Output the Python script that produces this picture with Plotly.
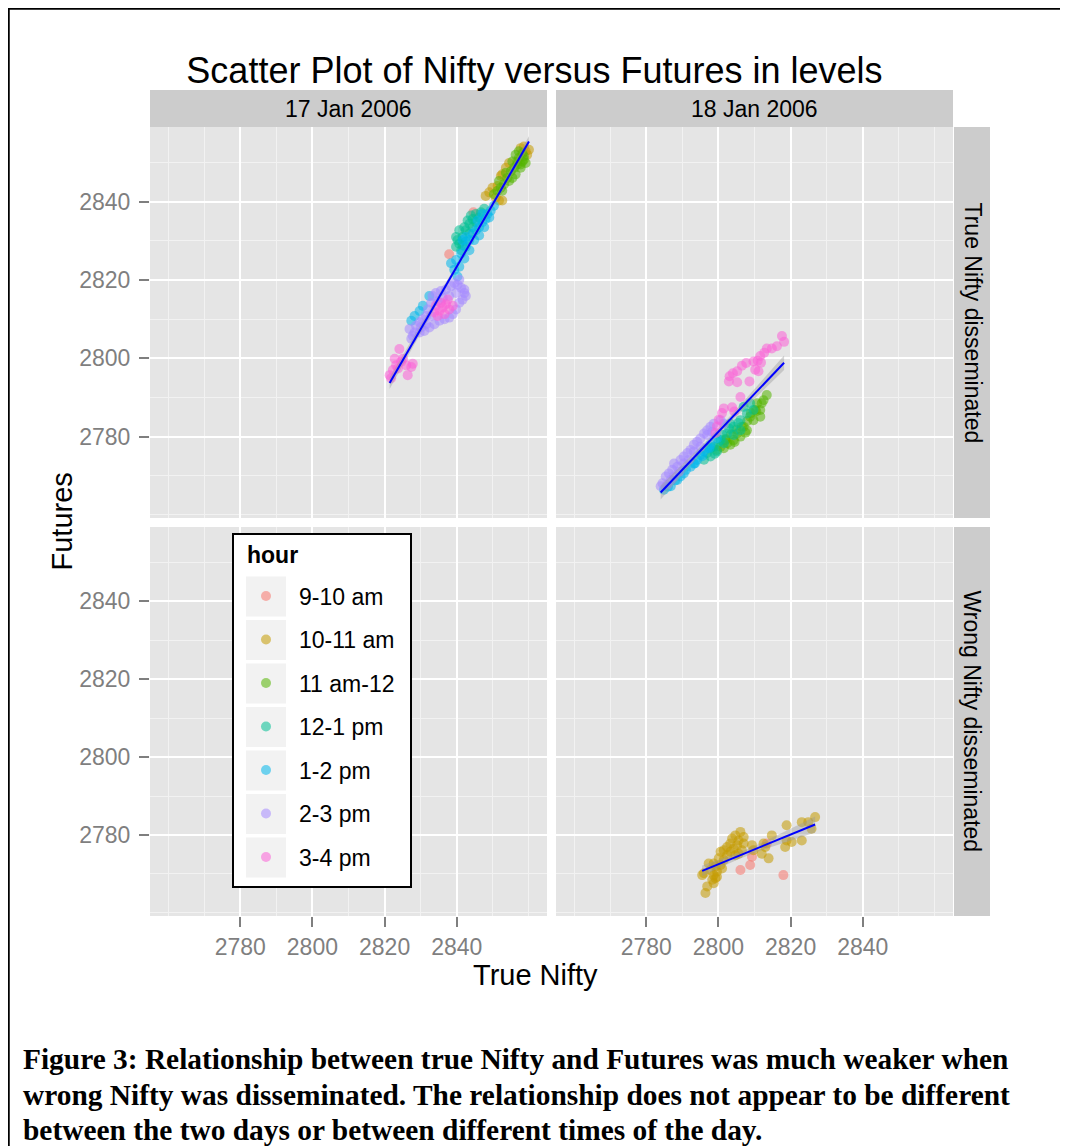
import numpy as np
import plotly.graph_objects as go

FONT = "Liberation Sans, Arial, sans-serif"
SERIF = "Liberation Serif, Times New Roman, serif"

hours = ["9-10 am", "10-11 am", "11 am-12", "12-1 pm", "1-2 pm", "2-3 pm", "3-4 pm"]
hour_colors = ["#F8766D", "#C49A00", "#53B400", "#00C094", "#00B6EB", "#A58AFF", "#FB61D7"]
days = ["17 Jan 2006", "18 Jan 2006"]
regimes = ["True Nifty disseminated", "Wrong Nifty disseminated"]
x_ticks = [2780, 2800, 2820, 2840]
y_ticks = [2780, 2800, 2820, 2840]

# ---- 17 Jan 2006, true Nifty disseminated (one list per hour, order as `hours`)
jan17_true_x = [
    [2837.9, 2844.6],
    [2852.2, 2852.6, 2849.9, 2849.0, 2850.8, 2851.7, 2854.5, 2859.1, 2860.0, 2858.6, 2853.6, 2848.0, 2857.7, 2859.5, 2851.3, 2852.6],
    [2856.3, 2857.2, 2858.2, 2856.8, 2855.4, 2855.9, 2857.7, 2858.6, 2859.1, 2855.0, 2856.3, 2854.0, 2853.1, 2852.2, 2851.3, 2850.3, 2854.5, 2853.6, 2858.2, 2857.2, 2855.4, 2856.8, 2857.7, 2858.6, 2852.6, 2851.7],
    [2839.8, 2840.7, 2841.6, 2842.5, 2843.5, 2844.4, 2845.3, 2846.7, 2841.2, 2840.2, 2842.1, 2843.0, 2843.9, 2841.6, 2843.5, 2844.4, 2846.2, 2842.5, 2840.7, 2845.3, 2847.6, 2839.8],
    [2827.4, 2829.7, 2832.4, 2830.6, 2828.3, 2838.4, 2839.8, 2840.7, 2839.3, 2841.2, 2842.5, 2843.5, 2844.4, 2845.3, 2846.2, 2847.1, 2848.0, 2848.5, 2849.4, 2850.3, 2846.2, 2847.6, 2849.0, 2844.8, 2842.1, 2843.5, 2840.2, 2841.6, 2842.5, 2845.8, 2847.1],
    [2826.9, 2827.8, 2828.7, 2829.7, 2830.6, 2831.5, 2832.0, 2832.9, 2833.3, 2834.2, 2835.6, 2837.0, 2838.4, 2839.3, 2840.2, 2841.2, 2842.1, 2842.5, 2841.6, 2840.7, 2839.8, 2838.9, 2837.9, 2836.6, 2835.2, 2833.8, 2832.4, 2831.0, 2829.7, 2828.3, 2827.4, 2839.8, 2837.9, 2836.1, 2834.7, 2832.9, 2831.5, 2830.1, 2840.7, 2842.1],
    [2824.1, 2822.8, 2823.2, 2824.6, 2826.0, 2827.4, 2827.8, 2826.4, 2821.4, 2822.3, 2823.7, 2825.1, 2821.8, 2834.2, 2835.6, 2837.0, 2837.9, 2836.6, 2835.2, 2833.8, 2837.5, 2838.9, 2836.1, 2834.7],
]
jan17_true_y = [
    [2826.6, 2837.3],
    [2846.6, 2847.0, 2843.6, 2842.4, 2841.1, 2840.3, 2849.9, 2852.9, 2853.3, 2854.1, 2848.7, 2841.5, 2853.7, 2852.0, 2844.0, 2840.3],
    [2852.0, 2851.2, 2850.3, 2849.5, 2850.3, 2848.7, 2848.7, 2851.6, 2849.9, 2847.8, 2847.0, 2846.1, 2844.5, 2843.6, 2842.8, 2841.9, 2845.3, 2847.4, 2852.4, 2852.9, 2846.1, 2850.3, 2849.5, 2850.8, 2842.8, 2845.3],
    [2828.5, 2829.3, 2831.0, 2832.7, 2834.4, 2835.6, 2836.9, 2837.3, 2827.6, 2830.2, 2833.5, 2835.2, 2836.5, 2828.9, 2831.9, 2833.5, 2836.0, 2829.8, 2832.7, 2834.8, 2838.2, 2831.0],
    [2809.6, 2812.1, 2815.9, 2813.4, 2810.8, 2824.3, 2825.1, 2823.4, 2822.6, 2826.8, 2828.5, 2830.2, 2831.9, 2832.7, 2833.5, 2834.8, 2835.6, 2836.9, 2837.7, 2839.0, 2831.4, 2833.5, 2836.0, 2830.2, 2825.5, 2827.6, 2820.9, 2830.2, 2831.0, 2835.2, 2836.9],
    [2807.5, 2805.8, 2808.3, 2809.2, 2810.0, 2810.8, 2812.5, 2814.2, 2815.9, 2816.7, 2817.2, 2817.6, 2818.4, 2819.2, 2818.8, 2818.0, 2816.7, 2815.9, 2815.0, 2814.2, 2812.5, 2811.3, 2810.4, 2810.0, 2809.6, 2808.7, 2807.9, 2807.0, 2806.6, 2806.6, 2805.0, 2816.7, 2815.9, 2815.4, 2814.6, 2810.8, 2808.7, 2807.9, 2820.1, 2817.6],
    [2802.4, 2799.9, 2798.2, 2799.1, 2798.2, 2797.8, 2798.6, 2795.7, 2795.7, 2797.0, 2797.4, 2799.9, 2794.9, 2813.4, 2814.2, 2813.8, 2812.5, 2811.3, 2812.1, 2811.7, 2815.0, 2813.4, 2813.0, 2810.8],
]

# ---- 18 Jan 2006, true Nifty disseminated
jan18_true_x = [
    [],
    [],
    [2800.6, 2802.4, 2804.2, 2806.1, 2807.9, 2809.7, 2811.6, 2812.5, 2813.4, 2810.7, 2808.8, 2807.0, 2805.2, 2801.5, 2803.3, 2811.6, 2810.2, 2801.9, 2799.6,
     2802.0, 2803.5, 2805.0, 2806.5, 2808.0, 2809.0, 2810.5, 2812.0, 2807.5, 2804.5],
    [2796.9, 2798.7, 2800.6, 2802.4, 2804.2, 2806.1, 2807.9, 2804.2, 2806.1, 2801.5, 2799.6, 2807.0, 2808.8, 2803.3, 2809.7, 2796.0, 2797.8,
     2798.0, 2800.0, 2801.0, 2803.0, 2805.5, 2799.0],
    [2784.9, 2786.8, 2788.6, 2790.4, 2792.3, 2794.1, 2796.0, 2797.8, 2799.6, 2789.5, 2793.2, 2796.9, 2795.0,
     2786.0, 2788.0, 2791.0, 2793.5, 2795.5, 2797.5],
    [2784.5, 2785.4, 2786.3, 2787.2, 2787.7, 2788.6, 2789.5, 2790.4, 2791.4, 2792.3, 2793.2, 2794.1, 2795.0, 2796.0, 2796.9, 2797.8, 2798.7, 2793.2, 2790.4, 2787.7, 2785.8, 2784.0, 2796.9, 2800.6, 2801.5, 2798.3, 2795.0, 2791.8, 2789.1, 2786.8],
    [2817.6, 2818.2, 2816.2, 2814.8, 2813.4, 2812.7, 2811.6, 2810.9, 2811.8, 2809.7, 2807.7, 2806.5, 2805.2, 2804.0, 2803.1, 2802.9, 2805.2, 2808.6, 2811.1, 2810.2, 2806.1, 2801.5, 2803.8, 2804.4, 2801.0, 2799.6, 2799.2, 2800.1],
]
jan18_true_y = [
    [],
    [],
    [2777.4, 2778.3, 2779.1, 2780.0, 2781.6, 2784.2, 2786.8, 2789.3, 2790.6, 2788.5, 2785.1, 2782.5, 2780.8, 2777.0, 2777.9, 2785.1, 2786.8, 2779.1, 2776.6,
     2779.4, 2780.6, 2781.8, 2782.5, 2784.0, 2786.0, 2786.5, 2788.5, 2781.0, 2778.6],
    [2775.8, 2777.4, 2779.1, 2780.8, 2782.5, 2784.2, 2785.9, 2780.4, 2781.6, 2778.3, 2776.2, 2787.6, 2788.5, 2783.3, 2786.8, 2774.1, 2774.9,
     2777.2, 2778.6, 2780.5, 2782.0, 2783.5, 2775.6],
    [2766.4, 2767.3, 2768.9, 2770.6, 2772.3, 2774.0, 2776.2, 2777.9, 2779.5, 2769.8, 2773.1, 2777.0, 2775.3,
     2767.2, 2768.8, 2771.5, 2773.2, 2775.0, 2777.0],
    [2768.1, 2769.8, 2770.6, 2771.5, 2773.1, 2772.3, 2774.0, 2774.9, 2775.8, 2776.6, 2777.9, 2778.7, 2779.5, 2780.8, 2781.6, 2782.5, 2783.3, 2776.2, 2773.1, 2769.8, 2767.7, 2767.3, 2780.4, 2784.2, 2783.3, 2781.2, 2777.4, 2774.0, 2771.0, 2768.9],
    [2805.7, 2804.2, 2803.1, 2802.5, 2802.5, 2801.4, 2800.6, 2799.4, 2798.9, 2799.2, 2798.8, 2798.1, 2796.7, 2796.2, 2795.4, 2794.1, 2793.9, 2794.1, 2796.7, 2797.1, 2790.1, 2787.2, 2787.5, 2786.4, 2786.0, 2782.6, 2780.9, 2784.3],
]

# ---- 17 Jan 2006, wrong Nifty disseminated (no observations)
jan17_wrong_x = [[], [], [], [], [], [], []]
jan17_wrong_y = [[], [], [], [], [], [], []]

# ---- 18 Jan 2006, wrong Nifty disseminated
jan18_wrong_x = [
    [2806.1, 2808.8, 2809.3, 2813.4, 2818.0],
    [2796.4, 2796.9, 2798.3, 2798.7, 2799.2, 2799.6, 2797.8, 2797.3, 2796.0, 2795.5, 2798.7, 2800.1, 2800.6, 2801.5, 2802.4, 2803.3, 2803.8, 2804.7, 2806.1, 2805.6, 2805.2, 2804.2, 2803.3, 2802.4, 2801.5, 2800.6, 2801.0, 2799.2, 2806.5, 2807.0, 2804.7, 2805.6, 2809.3, 2809.7, 2812.0, 2813.0, 2812.5, 2813.9, 2814.8, 2818.9, 2818.9, 2818.5, 2820.3, 2823.1, 2823.1, 2824.9, 2825.8, 2826.8, 2807.0, 2798.7, 2799.6],
    [], [], [], [], [],
]
jan18_wrong_y = [
    [2771.0, 2772.3, 2774.4, 2777.8, 2769.7],
    [2765.1, 2766.8, 2768.5, 2769.7, 2768.9, 2770.6, 2771.0, 2772.7, 2770.2, 2769.7, 2772.7, 2774.0, 2775.7, 2776.1, 2776.9, 2777.8, 2779.1, 2779.9, 2780.8, 2778.6, 2777.4, 2776.5, 2775.7, 2774.8, 2773.6, 2772.3, 2771.4, 2771.9, 2776.1, 2777.8, 2774.8, 2775.2, 2777.4, 2776.1, 2775.2, 2776.9, 2777.8, 2774.0, 2779.9, 2782.5, 2778.6, 2776.9, 2778.2, 2778.6, 2783.3, 2783.3, 2781.6, 2784.6, 2779.5, 2767.6, 2769.3],
    [], [], [], [], [],
]

# ---------------------------------------------------------------- layout helpers
W, H = 1052, 1138          # figure size; page has default 8px body margin
def px(x):                 # page pixel -> paper x
    return (x - 8) / W
def py(y):                 # page pixel -> paper y
    return 1 - (y - 8) / H

X_RANGE = [2755, 2865]
Y_RANGE = [2759.2, 2859.1]
COL_PX = [(150, 547), (556, 953)]
ROW_PX = [(127, 518), (527, 916)]

panels = [
    (jan17_true_x, jan17_true_y, "x", "y", 0, 0),
    (jan18_true_x, jan18_true_y, "x2", "y2", 1, 0),
    (jan17_wrong_x, jan17_wrong_y, "x3", "y3", 0, 1),
    (jan18_wrong_x, jan18_wrong_y, "x4", "y4", 1, 1),
]


def ols_fit(xs, ys, n=80, t=1.97):
    x = np.asarray(xs, float)
    y = np.asarray(ys, float)
    b, a = np.polyfit(x, y, 1)
    grid = np.linspace(x.min(), x.max(), n)
    fit = a + b * grid
    resid = y - (a + b * x)
    s = np.sqrt(np.sum(resid ** 2) / (len(x) - 2))
    sxx = np.sum((x - x.mean()) ** 2)
    se = s * np.sqrt(1.0 / len(x) + (grid - x.mean()) ** 2 / sxx)
    return grid, fit, fit - t * se, fit + t * se


fig = go.Figure()

for pi, (PX, PY, xa, ya, col, row) in enumerate(panels):
    allx, ally = [], []
    # keep every panel present even when it has no observations
    fig.add_trace(go.Scatter(x=[], y=[], mode="markers", xaxis=xa, yaxis=ya,
                             showlegend=False, hoverinfo="skip"))
    for h, (hx, hy) in enumerate(zip(PX, PY)):
        assert len(hx) == len(hy)
        allx += hx
        ally += hy
        if pi == 0 or hx:
            fig.add_trace(go.Scatter(
                x=hx, y=hy, mode="markers", xaxis=xa, yaxis=ya,
                name=hours[h], legendgroup=hours[h], showlegend=(pi == 0),
                marker=dict(color=hour_colors[h], size=10, opacity=0.55, line=dict(width=0)),
                hoverinfo="x+y+name",
            ))
    if len(allx) > 2:
        gx, gf, lo, hi = ols_fit(allx, ally)
        fig.add_trace(go.Scatter(
            x=np.concatenate([gx, gx[::-1]]), y=np.concatenate([hi, lo[::-1]]),
            fill="toself", fillcolor="rgba(153,153,153,0.4)", line=dict(width=0),
            mode="lines", xaxis=xa, yaxis=ya, showlegend=False, hoverinfo="skip"))
        fig.add_trace(go.Scatter(
            x=gx, y=gf, mode="lines", line=dict(color="#0000FF", width=2),
            xaxis=xa, yaxis=ya, showlegend=False, hoverinfo="skip"))

tick_font = dict(family=FONT, size=23, color="#7F7F7F")
layout_axes = {}
for pi, (_, _, xa, ya, col, row) in enumerate(panels):
    xkey = "xaxis" + xa[1:]
    ykey = "yaxis" + ya[1:]
    x0, x1 = COL_PX[col]
    y0, y1 = ROW_PX[row]
    layout_axes[xkey] = dict(
        domain=[px(x0), px(x1)], range=X_RANGE, anchor=ya,
        tickvals=x_ticks, showticklabels=(row == 1), ticks=("outside" if row == 1 else ""),
        ticklen=10, tickwidth=2, tickcolor="#7F7F7F", tickfont=tick_font,
        showgrid=True, gridcolor="white", gridwidth=2, zeroline=False, showline=False,
        minor=dict(dtick=10, tick0=2750, showgrid=True, gridcolor="#F2F2F2", gridwidth=1),
        fixedrange=True,
    )
    layout_axes[ykey] = dict(
        domain=[py(y1), py(y0)], range=Y_RANGE, anchor=xa,
        tickvals=y_ticks, showticklabels=(col == 0), ticks=("outside" if col == 0 else ""),
        ticklen=10, tickwidth=2, tickcolor="#7F7F7F", tickfont=tick_font,
        ticklabelstandoff=4,
        showgrid=True, gridcolor="white", gridwidth=2, zeroline=False, showline=False,
        minor=dict(dtick=10, tick0=2750, showgrid=True, gridcolor="#F2F2F2", gridwidth=1),
        fixedrange=True,
    )

shapes = []
annotations = []
# facet strips
for c, (x0, x1) in enumerate(COL_PX):
    shapes.append(dict(type="rect", xref="paper", yref="paper", x0=px(x0), x1=px(x1),
                       y0=py(127), y1=py(90), fillcolor="#CCCCCC", line=dict(width=0), layer="above"))
    annotations.append(dict(text=days[c], xref="paper", yref="paper", x=px((x0 + x1) / 2), y=py(108.5),
                            xanchor="center", yanchor="middle", showarrow=False,
                            font=dict(family=FONT, size=23, color="black")))
for r, (y0, y1) in enumerate(ROW_PX):
    shapes.append(dict(type="rect", xref="paper", yref="paper", x0=px(954), x1=px(990),
                       y0=py(y1), y1=py(y0), fillcolor="#CCCCCC", line=dict(width=0), layer="above"))
    annotations.append(dict(text=regimes[r], xref="paper", yref="paper", x=px(972), y=py((y0 + y1) / 2),
                            xanchor="center", yanchor="middle", textangle=90, showarrow=False,
                            font=dict(family=FONT, size=23, color="black")))

# axis titles
annotations.append(dict(text="True Nifty", xref="paper", yref="paper", x=px(535), y=py(975),
                        xanchor="center", yanchor="middle", showarrow=False,
                        font=dict(family=FONT, size=29, color="black")))
annotations.append(dict(text="Futures", xref="paper", yref="paper", x=px(62), y=py(521.5),
                        xanchor="center", yanchor="middle", textangle=-90, showarrow=False,
                        font=dict(family=FONT, size=29, color="black")))

# caption
caption_lines = [
    "Figure 3: Relationship between true Nifty and Futures was much weaker when",
    "wrong Nifty was disseminated. The relationship does not appear to be different",
    "between the two days or between different times of the day.",
]
for i, line in enumerate(caption_lines):
    annotations.append(dict(text="<b>" + line + "</b>", xref="paper", yref="paper",
                            x=px(21), y=py(1059 + 35.5 * i), xanchor="left", yanchor="middle",
                            showarrow=False, font=dict(family=SERIF, size=29.4, color="black")))

# legend box, title and key backgrounds (drawn under the legend entries)
shapes.append(dict(type="rect", xref="paper", yref="paper", x0=px(233), x1=px(411),
                   y0=py(887), y1=py(534), fillcolor="white", line=dict(color="black", width=2),
                   layer="above"))
for k in range(len(hours)):
    cy = 596.5 + 43.5 * k
    shapes.append(dict(type="rect", xref="paper", yref="paper", x0=px(246), x1=px(286),
                       y0=py(cy + 20), y1=py(cy - 20), fillcolor="#F2F2F2", line=dict(width=0),
                       layer="above"))
annotations.append(dict(text="<b>hour</b>", xref="paper", yref="paper", x=px(245), y=py(555),
                        xanchor="left", yanchor="middle", showarrow=False,
                        font=dict(family=FONT, size=23, color="black")))

# outer frame lines (top and left)
shapes.append(dict(type="line", xref="paper", yref="paper", x0=0, x1=1, y0=py(8.5), y1=py(8.5),
                   line=dict(color="black", width=2.5), layer="above"))
shapes.append(dict(type="line", xref="paper", yref="paper", x0=px(8.5), x1=px(8.5), y0=0, y1=py(8.5),
                   line=dict(color="black", width=2.5), layer="above"))

fig.update_layout(
    width=W, height=H,
    margin=dict(l=0, r=0, t=0, b=0),
    paper_bgcolor="white", plot_bgcolor="#E5E5E5",
    font=dict(family=FONT, color="black"),
    title=dict(text="Scatter Plot of Nifty versus Futures in levels", x=px(534.5), y=py(70),
               xanchor="center", yanchor="middle", font=dict(family=FONT, size=36, color="black")),
    showlegend=True,
    legend=dict(x=px(233), y=py(574.5), xanchor="left", yanchor="top",
                bgcolor="rgba(0,0,0,0)", borderwidth=0,
                font=dict(family=FONT, size=23, color="black"),
                itemwidth=56, tracegroupgap=10.6, itemclick=False, itemdoubleclick=False),
    shapes=shapes,
    annotations=annotations,
    **layout_axes,
)

fig.write_html("out.html")
